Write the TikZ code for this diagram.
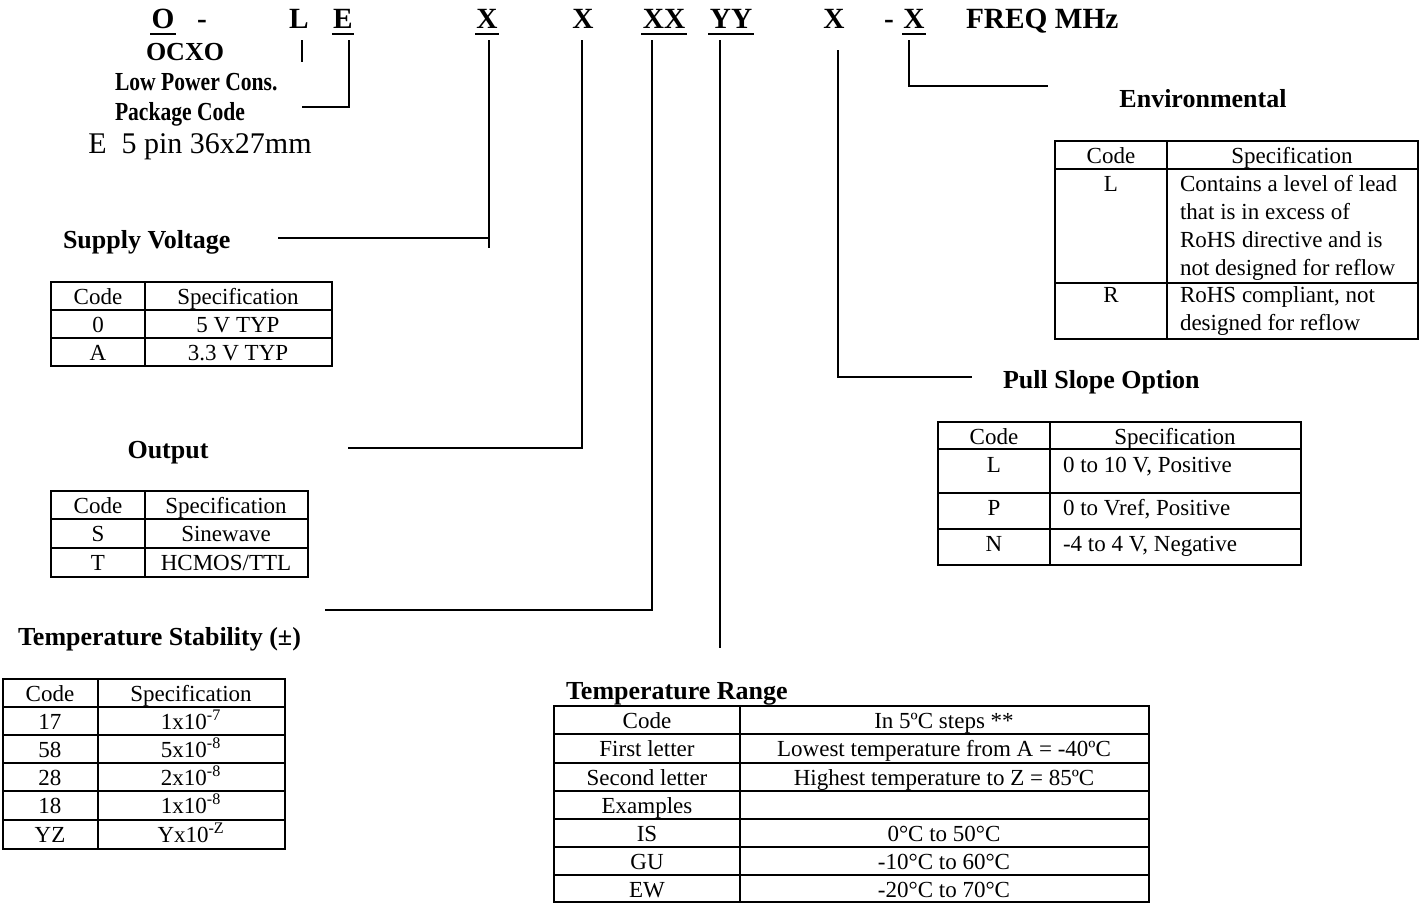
\documentclass[tikz,border=0pt]{standalone}
\usepackage{fontspec}
\setmainfont{Liberation Serif}
\newfontfamily\condbold{Liberation Serif Bold}[FakeStretch=0.83]
\newcommand\hfont{\fontsize{22}{26}\selectfont\bfseries}
\newcommand\tfont{\fontsize{19.5}{23}\selectfont\bfseries}
\newcommand\sfont{\fontsize{19.5}{23}\selectfont\condbold}
\newcommand\cfont{\fontsize{17.25}{21}\selectfont}
\newcommand\efont{\fontsize{22.5}{27}\selectfont}
\begin{document}
\begin{tikzpicture}[x=0.75pt,y=-0.75pt,
  hdr/.style={font=\hfont, inner sep=0pt, outer sep=0pt, anchor=base},
  ttl/.style={font=\tfont, inner sep=0pt, outer sep=0pt, anchor=base},
  sttl/.style={font=\sfont, inner sep=0pt, outer sep=0pt, anchor=base west},
  cell/.style={font=\cfont, inner sep=0pt, outer sep=0pt, anchor=base},
  grid/.style={line width=1.4pt},
  conn/.style={line width=1.1pt},
  ul/.style={line width=2pt}]
\useasboundingbox (0,0) rectangle (1424,904);

% ---------- header code ----------
\node[hdr] (hO) at (163,28) {O};
\node[hdr] (hD1) at (202,28) {-};
\node[hdr] (hL) at (299,28) {L};
\node[hdr] (hE) at (343,28) {E};
\node[hdr] (hX1) at (487,28) {X};
\node[hdr] (hX2) at (583,28) {X};
\node[hdr] (hXX) at (664,28) {XX};
\node[hdr] (hYY) at (731,28) {YY};
\node[hdr] (hX3) at (834,28) {X};
\node[hdr] (hD2) at (889,28) {-};
\node[hdr] (hX4) at (914,28) {X};
\node[hdr, anchor=base west] (hF) at (966,28) {FREQ MHz};
\foreach \n in {hO,hE,hX1,hXX,hYY,hX4}
  \draw[ul] ([yshift=-4.6pt,xshift=-1pt]\n.base west) -- ([yshift=-4.6pt,xshift=1pt]\n.base east);

% ---------- left texts ----------
\node[ttl] (ocxo) at (185,60) {OCXO};
\node[sttl] (lpc) at (115,90) {Low Power Cons.};
\node[sttl] (pkg) at (115,120) {Package Code};
\node[font=\efont, inner sep=0pt, anchor=base west] (pkgE) at (88,153) {E\ \ 5 pin 36x27mm};

% ---------- connectors ----------
\coordinate (cL) at (302,62);
\coordinate (cE) at (302,107);
\coordinate (cX1) at (489,248);
\coordinate (cX1h) at (278,238);
\coordinate (cX2) at (348,448);
\coordinate (cXX) at (325,610);
\coordinate (cYY) at (720,648);
\coordinate (cX3) at (972,377);
\coordinate (cX4) at (1048,86);
\draw[conn] (302,40) -- (cL);
\draw[conn] (349,40) -- (349,107) -- (cE);
\draw[conn] (489,40) -- (cX1);
\draw[conn] (489,238) -- (cX1h);
\draw[conn] (582,40) -- (582,448) -- (cX2);
\draw[conn] (652,40) -- (652,610) -- (cXX);
\draw[conn] (720,40) -- (cYY);
\draw[conn] (838,50) -- (838,377) -- (cX3);
\draw[conn] (909,40) -- (909,86) -- (cX4);

% ---------- Supply Voltage ----------
\node[ttl, anchor=base west] (svT) at (63,248) {Supply Voltage};
\draw[grid] (51,282) rectangle (332,366);
\draw[grid] (145,282) -- (145,366) (51,310) -- (332,310) (51,338) -- (332,338);
\node[cell] (sv11) at (98,304) {Code};
\node[cell] (sv12) at (238,304) {Specification};
\node[cell] (sv21) at (98,332) {0};
\node[cell] (sv22) at (238,332) {5 V TYP};
\node[cell] (sv31) at (98,360) {A};
\node[cell] (sv32) at (238,360) {3.3 V TYP};

% ---------- Output ----------
\node[ttl] (outT) at (168,458) {Output};
\draw[grid] (51,491) rectangle (308,577);
\draw[grid] (145,491) -- (145,577) (51,519) -- (308,519) (51,548) -- (308,548);
\node[cell] (o11) at (98,513) {Code};
\node[cell] (o12) at (226,513) {Specification};
\node[cell] (o21) at (98,541) {S};
\node[cell] (o22) at (226,541) {Sinewave};
\node[cell] (o31) at (98,570) {T};
\node[cell] (o32) at (226,570) {HCMOS/TTL};

% ---------- Temperature Stability ----------
\node[ttl, anchor=base west] (tsT) at (18,645) {Temperature Stability (±)};
\draw[grid] (3,679) rectangle (285,849);
\draw[grid] (98,679) -- (98,849);
\foreach \y in {707,735,763,791,820} \draw[grid] (3,\y) -- (285,\y);
\node[cell] (s11) at (50,701) {Code};
\node[cell] (s12) at (191,701) {Specification};
\node[cell] (s21) at (50,729) {17};
\node[cell] (s22) at (191,729) {1x10\textsuperscript{-7}};
\node[cell] (s31) at (50,757) {58};
\node[cell] (s32) at (191,757) {5x10\textsuperscript{-8}};
\node[cell] (s41) at (50,785) {28};
\node[cell] (s42) at (191,785) {2x10\textsuperscript{-8}};
\node[cell] (s51) at (50,813) {18};
\node[cell] (s52) at (191,813) {1x10\textsuperscript{-8}};
\node[cell] (s61) at (50,842) {YZ};
\node[cell] (s62) at (191,842) {Yx10\textsuperscript{-Z}};

% ---------- Temperature Range ----------
\node[ttl, anchor=base west] (trT) at (566,699) {Temperature Range};
\draw[grid] (554,706) rectangle (1149,902);
\draw[grid] (740,706) -- (740,902);
\foreach \y in {734,763,791,819,847,875} \draw[grid] (554,\y) -- (1149,\y);
\node[cell] (r11) at (647,728) {Code};
\node[cell] (r12) at (944,728) {In 5ºC steps **};
\node[cell] (r21) at (647,756) {First letter};
\node[cell] (r22) at (944,756) {Lowest temperature from A = -40ºC};
\node[cell] (r31) at (647,785) {Second letter};
\node[cell] (r32) at (944,785) {Highest temperature to Z = 85ºC};
\node[cell] (r41) at (647,813) {Examples};
\node[cell] (r51) at (647,841) {IS};
\node[cell] (r52) at (944,841) {0°C to 50°C};
\node[cell] (r61) at (647,869) {GU};
\node[cell] (r62) at (944,869) {-10°C to 60°C};
\node[cell] (r71) at (647,897) {EW};
\node[cell] (r72) at (944,897) {-20°C to 70°C};

% ---------- Environmental ----------
\node[ttl] (envT) at (1203,107) {Environmental};
\draw[grid] (1055,141) rectangle (1418,339);
\draw[grid] (1167,141) -- (1167,339) (1055,169) -- (1418,169) (1055,283) -- (1418,283);
\node[cell] (e11) at (1111,163) {Code};
\node[cell] (e12) at (1292,163) {Specification};
\node[cell] (e21) at (1111,191) {L};
\node[cell, anchor=base west] (e22a) at (1180,191) {Contains a level of lead};
\node[cell, anchor=base west] (e22b) at (1180,219) {that is in excess of};
\node[cell, anchor=base west] (e22c) at (1180,247) {RoHS directive and is};
\node[cell, anchor=base west] (e22d) at (1180,275) {not designed for reflow};
\node[cell] (e31) at (1111,302) {R};
\node[cell, anchor=base west] (e32a) at (1180,302) {RoHS compliant, not};
\node[cell, anchor=base west] (e32b) at (1180,330) {designed for reflow};

% ---------- Pull Slope Option ----------
\node[ttl, anchor=base west] (psT) at (1003,388) {Pull Slope Option};
\draw[grid] (938,422) rectangle (1301,565);
\draw[grid] (1050,422) -- (1050,565) (938,449) -- (1301,449) (938,493) -- (1301,493) (938,529) -- (1301,529);
\node[cell] (p11) at (994,444) {Code};
\node[cell] (p12) at (1175,444) {Specification};
\node[cell] (p21) at (994,472) {L};
\node[cell, anchor=base west] (p22) at (1063,472) {0 to 10 V, Positive};
\node[cell] (p31) at (994,515) {P};
\node[cell, anchor=base west] (p32) at (1063,515) {0 to Vref, Positive};
\node[cell] (p41) at (994,551) {N};
\node[cell, anchor=base west] (p42) at (1063,551) {-4 to 4 V, Negative};
\end{tikzpicture}
\end{document}
